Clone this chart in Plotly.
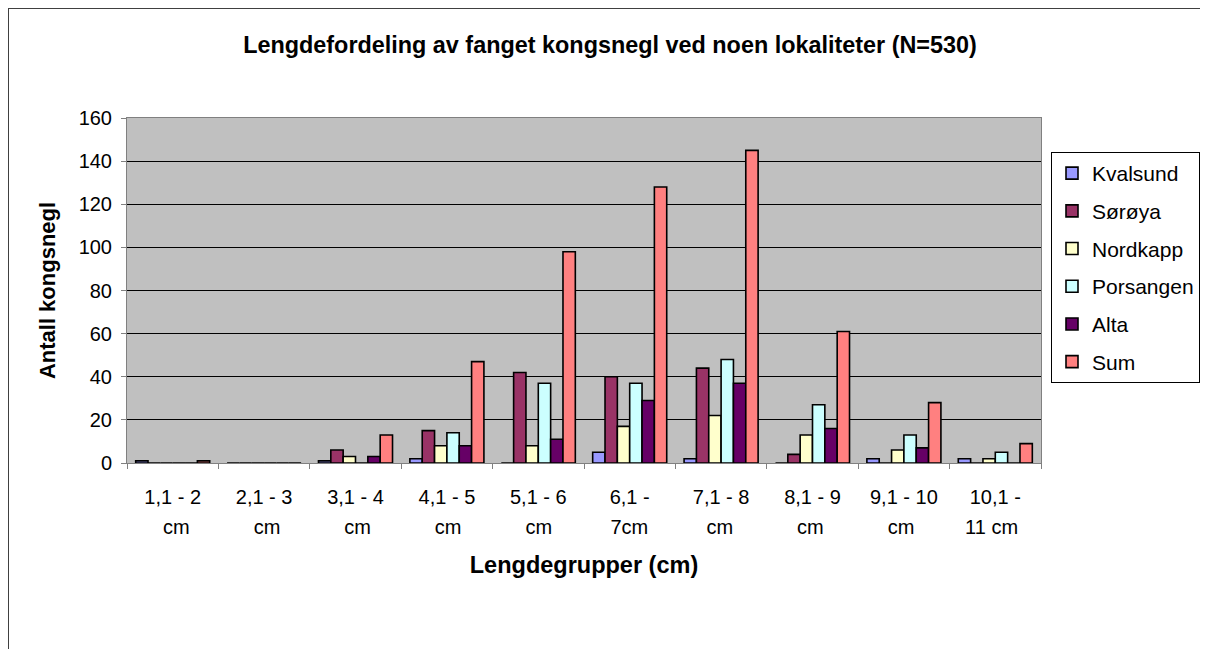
import plotly.graph_objects as go

categories = ["1,1 - 2 cm", "2,1 - 3 cm", "3,1 - 4 cm", "4,1 - 5 cm", "5,1 - 6 cm",
              "6,1 - 7cm", "7,1 - 8 cm", "8,1 - 9 cm", "9,1 - 10 cm", "10,1 - 11 cm"]
tick_line1 = ["1,1 - 2", "2,1 - 3", "3,1 - 4", "4,1 - 5", "5,1 - 6",
              "6,1 -", "7,1 - 8", "8,1 - 9", "9,1 - 10", "10,1 -"]
tick_line2 = ["cm", "cm", "cm", "cm", "cm", "7cm", "cm", "cm", "cm", "11 cm"]

kvalsund = [1, 0, 1, 2, 0, 5, 2, 0, 2, 2]
soroya = [0, 0, 6, 15, 42, 40, 44, 4, 0, 0]
nordkapp = [0, 0, 3, 8, 8, 17, 22, 13, 6, 2]
porsangen = [0, 0, 0, 14, 37, 37, 48, 27, 13, 5]
alta = [0, 0, 3, 8, 11, 29, 37, 16, 7, 0]
total = [1, 0, 13, 47, 98, 128, 145, 61, 28, 9]

series = [
    ("Kvalsund", kvalsund, "#9999FF"),
    ("Sørøya", soroya, "#993366"),
    ("Nordkapp", nordkapp, "#FFFFCC"),
    ("Porsangen", porsangen, "#CCFFFF"),
    ("Alta", alta, "#660066"),
    ("Sum", total, "#FF8080"),
]

FONT = "Liberation Sans, Arial, sans-serif"

fig = go.Figure()
for i, (name, vals, col) in enumerate(series):
    fig.add_trace(go.Bar(
        x=categories, y=vals, name=name, legendgroup=f"g{i}",
        marker=dict(color=col, line=dict(color="black", width=1.6)),
    ))

# helper trace (no visible marks) so the second-line tick axis is drawn
fig.add_trace(go.Scatter(
    x=categories, y=[None] * len(categories), xaxis="x2", yaxis="y",
    mode="markers", marker=dict(opacity=0), showlegend=False, hoverinfo="skip",
))

# page has an 8px body margin; figure coords = page coords - 8
W, H = 1192, 641
L, R, T, B = 119, 1033, 110, 455
pw, ph = R - L, B - T

def px_x(p):
    return (p - L) / pw

def px_y(p):
    return (B - p) / ph

fig.update_layout(
    width=W, height=H,
    margin=dict(l=L, r=W - R, t=T, b=H - B, pad=0, autoexpand=False),
    paper_bgcolor="white",
    plot_bgcolor="#C0C0C0",
    barmode="group",
    bargap=0.19,
    bargroupgap=0,
    font=dict(family=FONT, size=20, color="black"),
    title=dict(
        text="<b>Lengdefordeling av fanget kongsnegl ved noen lokaliteter (N=530)</b>",
        x=602 / W, xanchor="center", y=1 - 37 / H, yanchor="middle",
        font=dict(family=FONT, size=23.4, color="black"),
    ),
    legend=dict(
        x=px_x(1043), xanchor="left", y=px_y(144), yanchor="top",
        bgcolor="white", bordercolor="black", borderwidth=1,
        font=dict(family=FONT, size=21), tracegroupgap=7.4,
        traceorder="grouped",
    ),
    showlegend=True,
)

fig.update_layout(
    xaxis=dict(
        type="category", categoryorder="array", categoryarray=categories,
        tickmode="array", tickvals=categories, ticktext=tick_line1,
        showline=True, linecolor="#808080", linewidth=1, mirror=True,
        ticks="outside", tickson="boundaries", ticklen=5, tickcolor="#808080",
        ticklabelstandoff=16,
        showgrid=False,
        title=dict(text="<b>Lengdegrupper (cm)</b>", standoff=49,
                   font=dict(family=FONT, size=23.5)),
        tickfont=dict(family=FONT, size=20),
    ),
    xaxis2=dict(
        type="category", categoryorder="array", categoryarray=categories,
        overlaying="x", anchor="y", side="bottom",
        tickmode="array", tickvals=categories, ticktext=tick_line2,
        showline=False, showgrid=False, zeroline=False, ticks="",
        ticklabelstandoff=50,
        tickfont=dict(family=FONT, size=20),
    ),
    yaxis=dict(
        range=[0, 160], dtick=20, tick0=0,
        showline=True, linecolor="#808080", linewidth=1, mirror=True,
        ticks="outside", ticklen=5, tickcolor="#808080",
        ticklabelstandoff=5,
        showgrid=True, gridcolor="black", gridwidth=1,
        zeroline=False,
        title=dict(text="<b>Antall kongsnegl</b>", standoff=16,
                   font=dict(family=FONT, size=22)),
        tickfont=dict(family=FONT, size=20),
    ),
)

# outer chart border (left and top edges)
fig.add_shape(type="line", xref="paper", yref="paper",
              x0=px_x(0), x1=px_x(0), y0=px_y(0), y1=px_y(700),
              line=dict(color="#404040", width=2))
fig.add_shape(type="line", xref="paper", yref="paper",
              x0=px_x(0), x1=px_x(1215), y0=px_y(0), y1=px_y(0),
              line=dict(color="#404040", width=2))

fig.write_html("out.html")
